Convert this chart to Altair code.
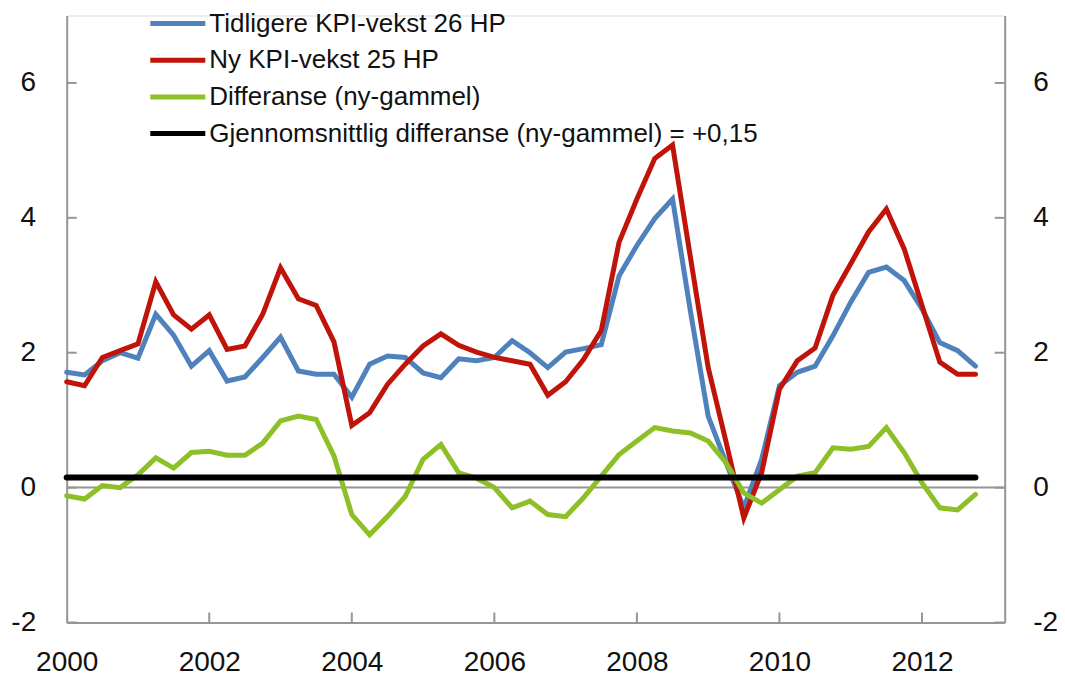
import altair as alt
import pandas as pd

# ---------------- data ----------------
quarters = [f"{y}K{k}" for y in range(2000, 2013) for k in range(1, 5)]
quarter_pos = [y + (k - 1) / 4 for y in range(2000, 2013) for k in range(1, 5)]

tidligere = [1.71, 1.67, 1.88, 2.00, 1.92, 2.57, 2.26, 1.80, 2.03, 1.58, 1.64, 1.93, 2.23,
             1.73, 1.68, 1.68, 1.34,
             1.83, 1.95, 1.93, 1.70, 1.63, 1.91, 1.88, 1.93, 2.18, 2.00, 1.78, 2.01, 2.06, 2.12,
             3.14, 3.59, 3.99, 4.28, 2.62, 1.06, 0.37, -0.30, 0.42, 1.51, 1.71, 1.80, 2.25,
             2.75, 3.19, 3.27, 3.07, 2.65, 2.15, 2.03, 1.80]
ny = [1.57, 1.51, 1.93, 2.03, 2.13, 3.05, 2.56, 2.35, 2.56, 2.05, 2.10, 2.57, 3.26,
      2.80, 2.70, 2.16, 0.92,
      1.11, 1.53, 1.83, 2.10, 2.28, 2.11, 2.01, 1.93, 1.88, 1.83, 1.37, 1.57, 1.90, 2.33,
      3.64, 4.28, 4.88, 5.08, 3.42, 1.78, 0.68, -0.45, 0.22, 1.46, 1.88, 2.07, 2.85,
      3.32, 3.79, 4.13, 3.54, 2.70, 1.86, 1.68, 1.68]
differanse = [-0.12, -0.17, 0.03, 0.00, 0.19, 0.44, 0.29, 0.52, 0.54, 0.48, 0.48, 0.66, 0.99,
              1.06, 1.01, 0.47, -0.40,
              -0.70, -0.43, -0.13, 0.42, 0.64, 0.22, 0.14, 0.00, -0.30, -0.20, -0.40, -0.43,
              -0.15, 0.17, 0.49, 0.69,
              0.89, 0.84, 0.81, 0.69, 0.37, -0.08, -0.23, -0.03, 0.17, 0.22, 0.59, 0.57, 0.61,
              0.89, 0.52, 0.07, -0.30, -0.33, -0.10]
gjennomsnitt = [0.15] * len(quarters)

series_names = ["Tidligere KPI-vekst 26 HP", "Ny KPI-vekst 25 HP",
                "Differanse (ny-gammel)",
                "Gjennomsnittlig differanse (ny-gammel) = +0,15"]
series_values = [tidligere, ny, differanse, gjennomsnitt]
series_colors = ["#4F81BD", "#C0140A", "#8DBF26", "#000000"]
series_widths = [5, 5, 5, 6]

y_ticks = [-2, 0, 2, 4, 6]
x_ticks = [2000, 2002, 2004, 2006, 2008, 2010, 2012]
x_inner_ticks = [2002, 2004, 2006, 2008, 2010, 2012]

# ---------------- layout ----------------
W, H = 938, 607
PAD_L, PAD_T, PAD_R, PAD_B = 58.7, 7.5, 52, 55
FONT = "Liberation Sans"
AXIS_GRAY = "#969696"
TXT = "#111111"

x_scale = alt.Scale(domain=[2000, 2013.16], nice=False, zero=False)
y_scale = alt.Scale(domain=[-2, 7], nice=False, zero=False)

x_axis = alt.Axis(values=x_ticks, labelExpr="datum.value", labelPadding=26.5, ticks=False,
                  grid=False, labelFontSize=28, labelFont=FONT, labelColor=TXT,
                  domainColor=AXIS_GRAY, domainWidth=2, labelFlush=False, title=None)
x_enc = alt.X("x:Q", scale=x_scale, title=None, axis=x_axis)

y_left = alt.Y("y:Q", scale=y_scale, title=None,
               axis=alt.Axis(orient="left", values=y_ticks, labelExpr="datum.value",
                             labelPadding=31, ticks=False, grid=False, labelFontSize=28,
                             labelFont=FONT, labelColor=TXT,
                             domainColor=AXIS_GRAY, domainWidth=2))
y_right = alt.Y("y:Q", scale=y_scale, title=None,
                axis=alt.Axis(orient="right", values=y_ticks, labelExpr="datum.value",
                              labelPadding=28, ticks=False, grid=False, labelFontSize=28,
                              labelFont=FONT, labelColor=TXT,
                              domainColor=AXIS_GRAY, domainWidth=2))
y_plain = alt.Y("y:Q", scale=y_scale, axis=None)

color_enc = alt.Color(
    "serie:N",
    scale=alt.Scale(domain=series_names, range=series_colors),
    legend=alt.Legend(
        title=None, orient="none", legendX=97.6, legendY=-5.5, direction="vertical",
        labelFont=FONT, labelFontSize=26, labelColor=TXT, labelLimit=0,
        symbolType="M-2.5,0L2.5,0", symbolSize=484, symbolStrokeWidth=5,
        symbolFillColor="transparent", labelOffset=18, rowPadding=9.7, padding=0,
    ),
)

layers = []

# zero line (carries the right-hand axis)
zero_df = pd.DataFrame({"y": [0]})
layers.append(
    alt.Chart(zero_df).mark_rule(color=AXIS_GRAY, strokeWidth=2)
    .encode(y=y_right, x=alt.value(0), x2=alt.value(W))
)

# inward tick marks
yt_df = pd.DataFrame({"y": y_ticks})
layers.append(
    alt.Chart(yt_df).mark_rule(color=AXIS_GRAY, strokeWidth=2)
    .encode(y=y_plain, x=alt.value(0), x2=alt.value(10))
)
layers.append(
    alt.Chart(yt_df).mark_rule(color=AXIS_GRAY, strokeWidth=2)
    .encode(y=y_plain, x=alt.value(W - 10), x2=alt.value(W))
)
xt_df = pd.DataFrame({"x": x_inner_ticks})
layers.append(
    alt.Chart(xt_df).mark_rule(color=AXIS_GRAY, strokeWidth=2)
    .encode(x=x_enc, y=alt.value(H - 10), y2=alt.value(H))
)

# data series, drawn in order
for i, (name, vals) in enumerate(zip(series_names, series_values)):
    df = pd.DataFrame({"x": quarter_pos, "kvartal": quarters, "y": vals, "serie": name})
    layers.append(
        alt.Chart(df).mark_line(strokeWidth=series_widths[i], strokeCap="round")
        .encode(x=x_enc, y=y_left if i == 0 else y_plain,
                color=color_enc, order=alt.Order("x:Q"))
    )

chart = (
    alt.layer(*layers)
    .resolve_axis(y="independent")
    .properties(width=W, height=H,
                autosize=alt.AutoSizeParams(type="none"),
                padding={"left": PAD_L, "top": PAD_T, "right": PAD_R, "bottom": PAD_B})
    .configure_view(stroke=None)
    .configure(font=FONT)
)

chart.save("out.html", embed_options={"renderer": "svg", "actions": False})
